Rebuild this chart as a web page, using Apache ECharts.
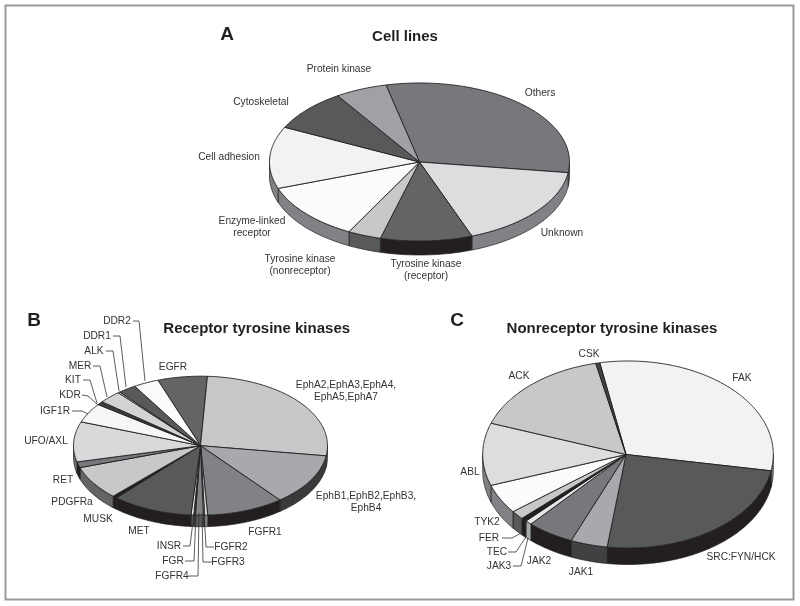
<!DOCTYPE html>
<html>
<head>
<meta charset="utf-8">
<style>html,body{margin:0;padding:0;background:#fff}#chart{width:800px;height:606px}</style>
<script src="https://cdn.jsdelivr.net/npm/echarts@6/dist/echarts.min.js"></script>
</head>
<body>
<div id="chart"></div>
<script>
// ---------- data (share of each pie, %) ----------
const cellCategories = ['Others','Unknown','Tyrosine kinase (receptor)','Tyrosine kinase (nonreceptor)','Enzyme-linked receptor','Cell adhesion','Cytoskeletal','Protein kinase'];
const cellValues = [30.8,17.2,9.9,3.6,11.8,12.7,8.6,5.6];
const receptorCategories = ['EGFR','EphA2,EphA3,EphA4,EphA5,EphA7','EphB1,EphB2,EphB3,EphB4','FGFR1','FGFR2','FGFR3','FGFR4','FGR','INSR','MET','MUSK','PDGFRa','RET','UFO/AXL','IGF1R','KDR','KIT','MER','ALK','DDR1','DDR2'];
const receptorValues = [6.3,26.4,11.9,9.8,0.4,0.15,1.0,0.2,0.35,10.3,0.55,7.8,1.35,9.3,4.5,0.6,0.2,2.9,0.25,2.3,3.2];
const nonreceptorCategories = ['FAK','SRC:FYN/HCK','JAK1','JAK2','JAK3','TEC','FER','TYK2','ABL','ACK','CSK'];
const nonreceptorValues = [30.9,24.5,4.1,5.25,0.75,0.64,1.5,5.1,10.8,16,0.45];

// ---------- colours ----------
const cellTop = ['#77787b','#dcddde','#636466','#c7c8ca','#fbfbfb','#f1f2f2','#58595b','#a0a1a4'];
const cellSide = ['#808285','#808285','#231f20','#58595b','#808285','#808285','#58595b','#a0a1a4'];
const receptorTop = ['#636466','#c7c8ca','#a7a9ac','#808285','#d8d9da','#f1f2f2','#808285','#414042','#e6e7e8','#58595b','#231f20','#c7c8ca','#77787b','#d8d9da','#f6f6f6','#414042','#e6e7e8','#d1d3d4','#f6f6f6','#58595b','#fbfbfb'];
const receptorSide = ['#636466','#808285','#3a3a3c','#231f20','#808285','#58595b','#58595b','#414042','#58595b','#231f20','#231f20','#636466','#231f20','#6d6e71','#808285','#414042','#808285','#808285','#808285','#58595b','#808285'];
const nonreceptorTop = ['#f1f2f2','#58595b','#a7a9ac','#77787b','#e6e7e8','#231f20','#c7c8ca','#fbfbfb','#dcddde','#c7c8ca','#414042'];
const nonreceptorSide = ['#808285','#231f20','#414042','#231f20','#a7a9ac','#231f20','#58595b','#808285','#808285','#808285','#414042'];

// ---------- layout ----------
const layouts = {
  A: {cx:419.5, cy:162, ax:419.5, rx:150, ry:79, depth:14, start:-12.9},
  B: {cx:200.5, cy:445.7, ax:200.5, rx:127, ry:69.5, depth:11.5, start:-19.6},
  C: {cx:628, cy:454.5, ax:626, rx:145.3, ry:93.5, depth:16.5, start:-11.2}
};
const titles = [
  ['A',227,35,19],['Cell lines',405,37,15],
  ['B',34,321,19],['Receptor tyrosine kinases',256.7,329,15],
  ['C',457,321,19],['Nonreceptor tyrosine kinases',612,329,15]
];
const labels = [
  ['Protein kinase',339,69],['Others',540,93],['Cytoskeletal',261,102],['Cell adhesion',229,157],['Unknown',562,233],
  ['Enzyme-linked\nreceptor',252,227.5],['Tyrosine kinase\n(nonreceptor)',300,265],['Tyrosine kinase\n(receptor)',426,270.5],
  ['DDR2',117,321],['DDR1',97,336],['ALK',94,351],['MER',80,366],['KIT',73,380],['KDR',70,395],['IGF1R',55,411],['EGFR',173,367],
  ['UFO/AXL',46,441],['RET',63,480],['PDGFRa',72,502],['MUSK',98,519],['MET',139,531],['INSR',169,546],['FGR',173,561],['FGFR4',172,576],
  ['EphA2,EphA3,EphA4,\nEphA5,EphA7',346,391],['EphB1,EphB2,EphB3,\nEphB4',366,502],['FGFR1',265,532],['FGFR2',231,547],['FGFR3',228,562],
  ['CSK',589,354],['ACK',519,376],['FAK',742,378],['ABL',470,472],['TYK2',487,522],['FER',489,538],['TEC',497,552],['JAK3',499,566],['JAK2',539,561],['JAK1',581,572],['SRC:FYN/HCK',741,557]
];
const leaders = [
  [[133,321],[139,321],[145,381]],[[113,336],[120,336],[126,387]],[[106,351],[113,351],[119,391]],
  [[93,366],[100,366],[107,397]],[[83,380],[90,380],[97,403]],[[82,395],[88,396],[98,405]],[[72,411],[82,411],[88,414]],
  [[183,546],[190,546],[194,513]],[[185,561],[194,561],[196,513]],[[188,576],[198,576],[199,513]],
  [[214,547],[206,547],[204,513]],[[212,562],[203,562],[202,513]],
  [[502,538],[512,538],[523,532]],[[508,552],[516,552],[526,537]],[[513,566],[521,566],[528,538]]
];

// ---------- drawing ----------
const INK = '#231f20';
function pieSeries(name, categories, values, top, side, L) {
  const total = values.reduce((a, b) => a + b, 0);
  const edge = (deg) => {
    const t = deg * Math.PI / 180;
    return [L.cx + L.rx * Math.sin(t), L.cy - L.ry * Math.cos(t)];
  };
  const arc = (from, to) => {
    const n = Math.max(2, Math.ceil((to - from) / 0.75));
    const pts = [];
    for (let i = 0; i <= n; i++) pts.push(edge(from + (to - from) * i / n));
    return pts;
  };
  // The rim shows only on the front half: 90..270 degrees, repeated each turn.
  const rim = (a, b) => {
    const out = [];
    [-360, 0, 360].forEach((k) => {
      const lo = Math.max(a, 90 + k), hi = Math.min(b, 270 + k);
      if (hi > lo) out.push([lo, hi]);
    });
    return out;
  };
  return {
    type: 'custom', name, coordinateSystem: 'none', silent: true, clip: false,
    data: values.map((v, i) => ({name: categories[i], value: [v, i]})),
    renderItem(params, api) {
      const i = api.value(1);
      let before = 0;
      for (let k = 0; k < i; k++) before += values[k];
      const a = L.start + before / total * 360;
      const b = a + api.value(0) / total * 360;
      const children = [];
      rim(a, b).forEach(([lo, hi]) => {
        const upper = arc(lo, hi);
        const lower = upper.map((p) => [p[0], p[1] + L.depth]).reverse();
        children.push({type: 'polygon', shape: {points: upper.concat(lower)},
          style: {fill: side[i], stroke: INK, lineWidth: 0.7}});
      });
      children.push({type: 'polygon', shape: {points: [[L.ax, L.cy]].concat(arc(a, b))},
        style: {fill: top[i], stroke: INK, lineWidth: 0.9, lineJoin: 'round'}});
      return {type: 'group', children};
    }
  };
}

const graphic = [
  {type: 'rect', shape: {x: 5.5, y: 5.5, width: 788, height: 594}, style: {fill: 'none', stroke: '#9a9a9c', lineWidth: 2}, z: 1}
];
leaders.forEach((pts) => graphic.push({type: 'polyline', shape: {points: pts},
  style: {fill: 'none', stroke: '#333', lineWidth: 0.8}, z: 20}));
labels.forEach(([text, x, y]) => graphic.push({type: 'text', x, y, z: 21,
  style: {text, fill: '#333335', font: '10.2px "Liberation Sans", Arial, sans-serif', align: 'center', verticalAlign: 'middle', lineHeight: 12}}));

const chart = echarts.init(document.getElementById('chart'), null, {width: 800, height: 606});
chart.setOption({
  backgroundColor: '#ffffff',
  animation: false,
  title: titles.map(([text, x, y, size]) => ({text, left: x, top: y, textAlign: 'center', textVerticalAlign: 'middle', padding: 0,
    textStyle: {color: INK, fontFamily: '"Liberation Sans", Arial, sans-serif', fontWeight: 'bold', fontSize: size}})),
  graphic,
  series: [
    pieSeries('Cell lines', cellCategories, cellValues, cellTop, cellSide, layouts.A),
    pieSeries('Receptor tyrosine kinases', receptorCategories, receptorValues, receptorTop, receptorSide, layouts.B),
    pieSeries('Nonreceptor tyrosine kinases', nonreceptorCategories, nonreceptorValues, nonreceptorTop, nonreceptorSide, layouts.C)
  ]
});
</script>
</body>
</html>
